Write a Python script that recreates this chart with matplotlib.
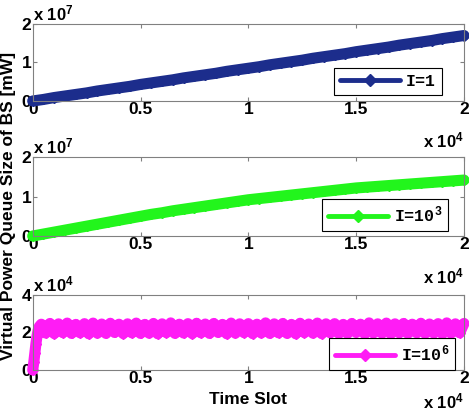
import matplotlib
matplotlib.use("Agg")
import matplotlib.pyplot as plt
import numpy as np

plt.rcParams['font.family'] = ['Liberation Sans', 'DejaVu Sans']
plt.rcParams['font.weight'] = 'bold'
plt.rcParams['mathtext.default'] = 'regular'

# time slots
t = np.arange(0, 20001, 500)

# I = 1 : grows linearly
q1 = [0.00, 0.04, 0.09, 0.13, 0.17, 0.21, 0.26, 0.30, 0.34, 0.38,
      0.43, 0.47, 0.51, 0.55, 0.60, 0.64, 0.68, 0.72, 0.77, 0.81,
      0.85, 0.89, 0.94, 0.98, 1.02, 1.06, 1.11, 1.15, 1.19, 1.23,
      1.28, 1.32, 1.36, 1.40, 1.45, 1.49, 1.53, 1.57, 1.62, 1.66, 1.70]

# I = 10^3 : concave growth
q2 = [0.00, 0.05, 0.10, 0.15, 0.20, 0.25, 0.30, 0.35, 0.40, 0.45,
      0.50, 0.55, 0.59, 0.64, 0.68, 0.72, 0.76, 0.80, 0.84, 0.88,
      0.92, 0.95, 0.98, 1.01, 1.04, 1.07, 1.10, 1.13, 1.16, 1.19,
      1.22, 1.24, 1.26, 1.28, 1.30, 1.32, 1.34, 1.36, 1.38, 1.40, 1.42]

# I = 10^6 : jumps up then fluctuates
t3 = [0, 50, 100, 150, 200, 250, 300] + list(range(400, 20001, 200))
q3 = [0.00, 0.40, 0.90, 1.40, 1.80, 2.10, 2.30,
      2.44, 1.97, 2.48, 1.94, 2.46, 1.99, 2.50, 1.95, 2.43, 1.98,
      2.47, 1.93, 2.50, 1.96, 2.45, 1.95, 2.49, 2.00, 2.44, 1.94,
      2.46, 1.98, 2.50, 1.95, 2.43, 1.96, 2.48, 1.93, 2.46, 1.99,
      2.51, 1.95, 2.44, 1.97, 2.47, 1.94, 2.49, 1.98, 2.45, 1.95,
      2.48, 2.00, 2.43, 1.93, 2.50, 1.96, 2.46, 1.99, 2.47, 1.94,
      2.44, 1.97, 2.51, 1.95, 2.46, 1.98, 2.48, 1.95, 2.43, 1.93,
      2.49, 1.99, 2.45, 1.96, 2.50, 1.94, 2.46, 1.98, 2.47, 1.95,
      2.43, 1.95, 2.48, 2.00, 2.44, 1.93, 2.51, 1.97, 2.46, 1.96,
      2.50, 1.94, 2.46, 1.98, 2.48, 1.95, 2.44, 1.99, 2.49, 1.95,
      2.45, 1.97, 2.47, 1.93, 2.51, 1.96, 2.46, 1.98, 2.48]

series = [
    (t, np.array(q1) * 1e7, '#1c2d8c', 'I=1', [0, 2e7], [0, 1e7, 2e7], ['0', '1', '2'], '7'),
    (t, np.array(q2) * 1e7, '#22f51c', 'I=10$^3$', [0, 2e7], [0, 1e7, 2e7], ['0', '1', '2'], '7'),
    (t3, np.array(q3) * 1e4, '#ff1cf5', 'I=10$^6$', [0, 4e4], [0, 2e4, 4e4], ['0', '2', '4'], '4'),
]

positions = [[0.0697, 0.7578, 0.9196, 0.1847],
             [0.0697, 0.4340, 0.9196, 0.1890],
             [0.0697, 0.1127, 0.9196, 0.1800]]
leg_anchor = [(0.949, 0.078), (0.963, 0.063), (0.979, 0.0)]
exp_y = [-0.377, -0.39, -0.293]

fig = plt.figure(figsize=(4.69, 4.17), dpi=100)

for i, (x, y, col, lab, ylim, yt, ytl, ex) in enumerate(series):
    ax = fig.add_axes(positions[i])
    ax.plot(x, y, color=col, lw=8, marker='D', ms=5.5, label=lab, clip_on=False,
            solid_joinstyle='round', solid_capstyle='round')
    ax.set_xlim(0, 2e4)
    ax.set_ylim(*ylim)
    ax.set_xticks([0, 5000, 10000, 15000, 20000])
    ax.set_xticklabels(['0', '0.5', '1', '1.5', '2'])
    ax.set_yticks(yt)
    ax.set_yticklabels(ytl)
    ax.tick_params(direction='in', top=True, right=True, length=3, width=0.8,
                   color='#808080', labelsize=12.5, pad=1)
    for s in ax.spines.values():
        s.set_color('#808080')
        s.set_linewidth(0.8)
    ax.text(0.0, 1.05, 'x 10$^{%s}$' % ex, transform=ax.transAxes, fontsize=12,
            fontweight='bold', ha='left', va='baseline')
    ax.text(1.0, exp_y[i], 'x 10$^4$', transform=ax.transAxes, fontsize=12,
            fontweight='bold', ha='right', va='top')
    leg = ax.legend(loc='lower right', bbox_to_anchor=leg_anchor[i], borderaxespad=0,
                    fancybox=False, edgecolor='black', numpoints=1, handlelength=3.6,
                    prop={'family': 'Liberation Mono', 'weight': 'bold', 'size': 12},
                    borderpad=0.35, handletextpad=0.35, framealpha=1)
    leg.get_frame().set_linewidth(0.8)
    for h in leg.get_lines():
        h.set_linewidth(3.5)
        h.set_markersize(6)

fig.text(0.529, 0.041, 'Time Slot', ha='center', va='center', fontsize=12.5, fontweight='bold')
fig.text(0.018, 0.506, 'Virtual Power Queue Size of BS [mW]', rotation=90,
         ha='center', va='center', fontsize=12.5, fontweight='bold')

fig.savefig('out.png', dpi=100)
